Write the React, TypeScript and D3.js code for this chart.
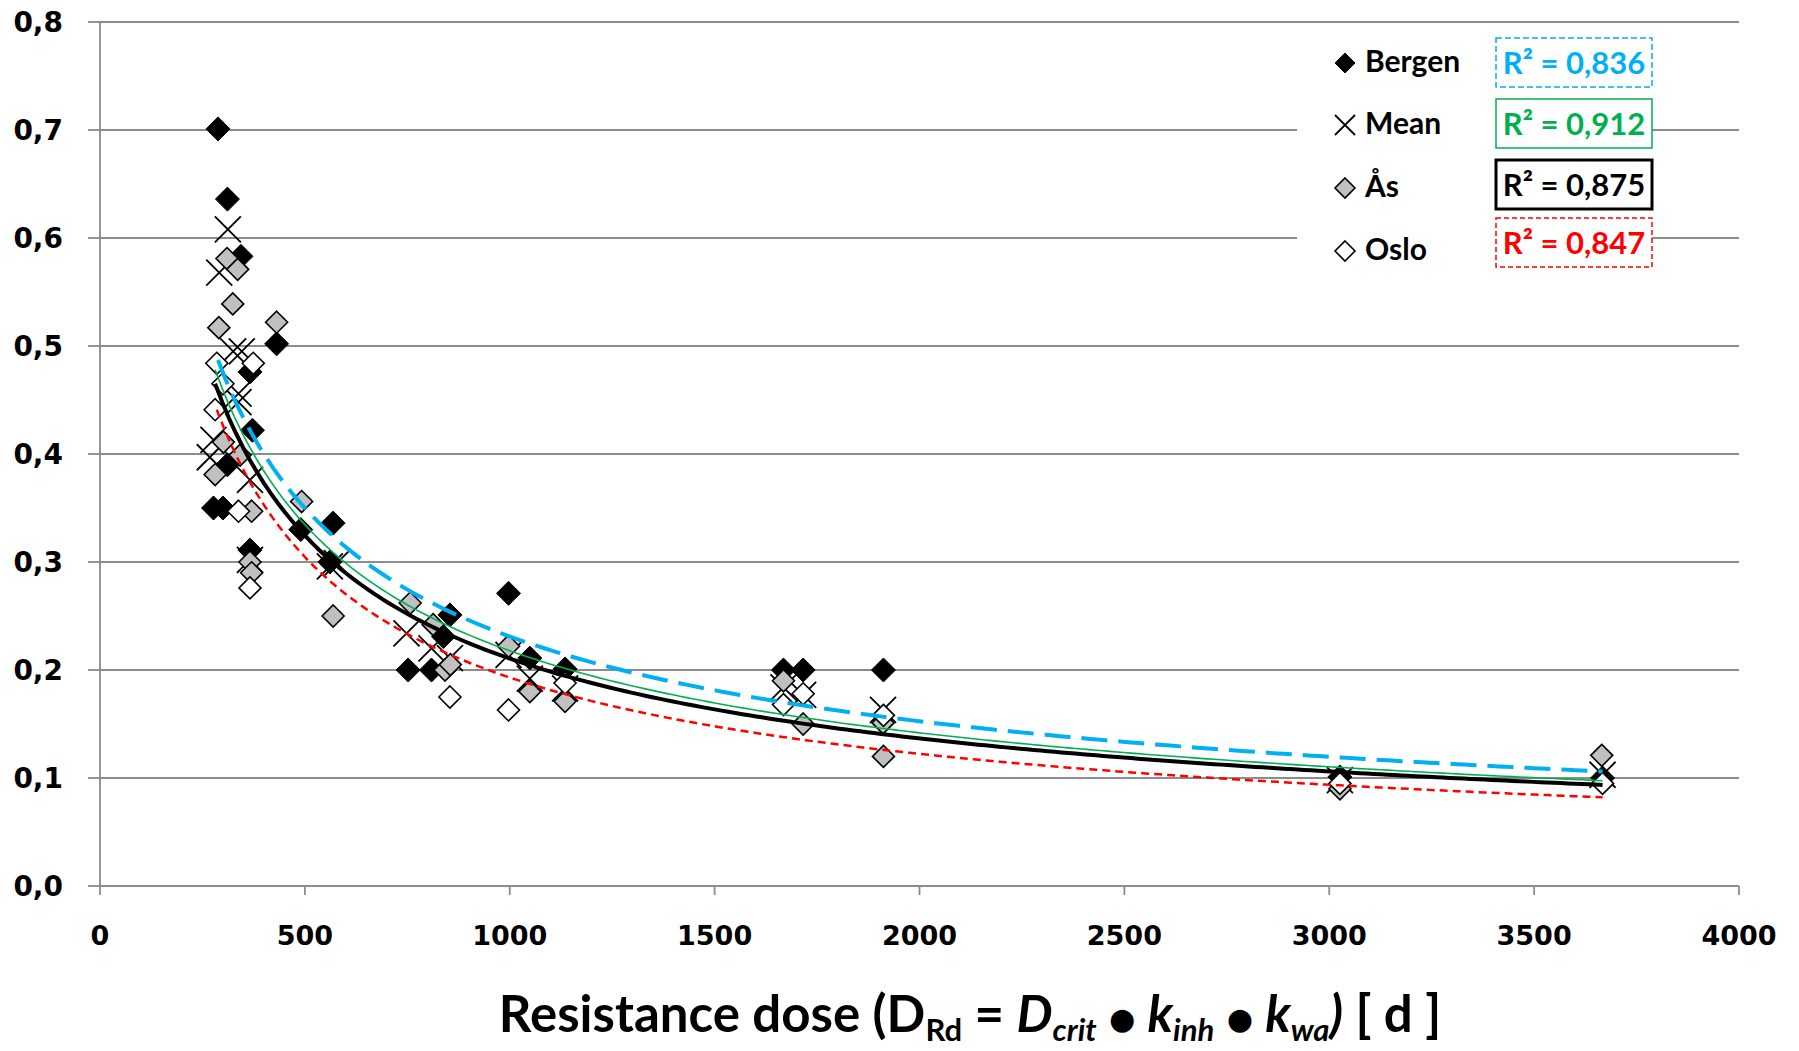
import React from "react";
import * as d3 from "d3";

// Points: [resistance dose, value]
const bergen: [number, number][] = [
  [288, 0.701], [311, 0.636], [344, 0.583], [431, 0.502], [366, 0.476],
  [372, 0.422], [311, 0.39], [277, 0.35], [300, 0.35], [366, 0.311],
  [490, 0.33], [569, 0.336], [561, 0.3], [752, 0.2], [809, 0.2],
  [854, 0.251], [838, 0.231], [997, 0.271], [1049, 0.211], [1135, 0.201],
  [1668, 0.2], [1716, 0.2], [1912, 0.2], [3026, 0.101], [3667, 0.1],
];

const mean: [number, number][] = [
  [312, 0.608], [291, 0.568], [325, 0.495], [346, 0.495], [338, 0.456],
  [338, 0.448], [277, 0.413], [268, 0.397], [366, 0.376], [366, 0.302],
  [561, 0.296], [578, 0.299], [748, 0.234], [809, 0.22], [854, 0.211],
  [997, 0.214], [1049, 0.192], [1135, 0.183], [1668, 0.184], [1716, 0.177],
  [1911, 0.163], [3026, 0.098], [3667, 0.103],
];

const aas: [number, number][] = [
  [310, 0.581], [336, 0.571], [324, 0.539], [290, 0.517], [431, 0.522],
  [301, 0.411], [342, 0.399], [281, 0.381], [370, 0.347], [366, 0.3],
  [370, 0.29], [492, 0.356], [569, 0.25], [757, 0.262], [813, 0.242],
  [842, 0.2], [855, 0.205], [997, 0.222], [1049, 0.18], [1135, 0.171],
  [1668, 0.19], [1716, 0.15], [1911, 0.151], [1912, 0.12], [3026, 0.09],
  [3665, 0.121],
];

const oslo: [number, number][] = [
  [285, 0.484], [374, 0.484], [281, 0.441], [300, 0.465], [338, 0.347],
  [366, 0.276], [854, 0.175], [997, 0.163], [1135, 0.188], [1668, 0.168],
  [1716, 0.178], [1912, 0.158], [3026, 0.095], [3667, 0.095],
];

// power trendlines y = a * x^b
const trendNames = ["Bergen", "Mean", "Ås", "Oslo"];
const trendA = [0.485 * Math.pow(290, 0.599), 0.478 * Math.pow(281, 0.619), 0.465 * Math.pow(281, 0.624), 0.441 * Math.pow(285, 0.658)];
const trendB = [-0.599, -0.619, -0.624, -0.658];
const trendFrom = [288, 281, 281, 285];
const r2Labels = ["R² = 0,836", "R² = 0,912", "R² = 0,875", "R² = 0,847"];

const xTicks = [0, 500, 1000, 1500, 2000, 2500, 3000, 3500, 4000];
const yTicks = [0, 0.1, 0.2, 0.3, 0.4, 0.5, 0.6, 0.7, 0.8];

const W = 1799;
const H = 1051;
const left = 100, right = 1739, top = 22, bottom = 886;

const x = d3.scaleLinear().domain([0, 4000]).range([left, right]);
const y = d3.scaleLinear().domain([0, 0.8]).range([bottom, top]);

const fmt = (v: number) => d3.format(".1f")(v).replace(".", ",");

const diamond = (r: number) => `M0,${-r}L${r},0L0,${r}L${-r},0Z`;
const cross = (r: number) => `M${-r},${-r}L${r},${r}M${-r},${r}L${r},${-r}`;

const trendStyles = [
  { stroke: "#00b0f0", width: 4, dash: "26 11" },
  { stroke: "#00b050", width: 1.6, dash: undefined },
  { stroke: "#000000", width: 4, dash: undefined },
  { stroke: "#ff0000", width: 2.5, dash: "8 5" },
];

const boxStyles = [
  { stroke: "#00b0f0", width: 1.5, dash: "6 3", color: "#00b0f0" },
  { stroke: "#00b050", width: 1.5, dash: undefined, color: "#00b050" },
  { stroke: "#000000", width: 3, dash: undefined, color: "#000000" },
  { stroke: "#ff0000", width: 1.5, dash: "5 3", color: "#ff0000" },
];

const labelFont = "'DejaVu Sans', Verdana, sans-serif";
const textFont = "Lato, 'Open Sans', sans-serif";

const Marker = ({ kind, cx, cy, r }: { kind: string; cx: number; cy: number; r: number }) => {
  if (kind === "Bergen")
    return <path d={diamond(r)} transform={`translate(${cx},${cy})`} fill="#000" stroke="#000" strokeWidth={1} />;
  if (kind === "Mean")
    return <path d={cross(r)} transform={`translate(${cx},${cy})`} fill="none" stroke="#000" strokeWidth={1.8} />;
  if (kind === "Ås")
    return <path d={diamond(r)} transform={`translate(${cx},${cy})`} fill="#c0c0c0" stroke="#000" strokeWidth={1.6} />;
  return <path d={diamond(r)} transform={`translate(${cx},${cy})`} fill="#fff" stroke="#000" strokeWidth={1.6} />;
};

export default function App() {
  const series: [string, [number, number][], number][] = [
    ["Bergen", bergen, 12],
    ["Mean", mean, 13],
    ["Ås", aas, 11],
    ["Oslo", oslo, 11],
  ];

  const line = d3
    .line<[number, number]>()
    .x((d) => x(d[0]))
    .y((d) => y(d[1]));

  const trends = trendNames.map((name, i) => {
    const pts = d3.range(0, 201).map((k) => {
      const xv = trendFrom[i] + ((3667 - trendFrom[i]) * k) / 200;
      return [xv, trendA[i] * Math.pow(xv, trendB[i])] as [number, number];
    });
    return { name, d: line(pts) || "" };
  });

  const legendRows = [61, 123, 186, 249];
  const boxTops = [38, 99, 160, 218];
  const bullet = { fontFamily: "'DejaVu Sans', sans-serif", fontSize: 30 };

  return (
    <svg width={W} height={H} style={{ position: "absolute", left: 0, top: 0, background: "#fff" }}>
      {/* gridlines */}
      {yTicks.map((t) => (
        <line key={"g" + t} x1={left} x2={right} y1={y(t)} y2={y(t)} stroke="#8c8c8c" strokeWidth={1.8} />
      ))}
      {/* axes */}
      <line x1={left} x2={left} y1={top} y2={bottom} stroke="#8c8c8c" strokeWidth={1.8} />
      {yTicks.map((t) => (
        <line key={"yt" + t} x1={left - 12} x2={left} y1={y(t)} y2={y(t)} stroke="#8c8c8c" strokeWidth={1.8} />
      ))}
      {xTicks.map((t) => (
        <line key={"xt" + t} x1={x(t)} x2={x(t)} y1={bottom} y2={bottom + 9} stroke="#8c8c8c" strokeWidth={1.8} />
      ))}
      {yTicks.map((t) => (
        <text key={"yl" + t} x={63} y={y(t)} dy="0.36em" textAnchor="end" fontFamily={labelFont} fontWeight="bold" fontSize={28}>
          {fmt(t)}
        </text>
      ))}
      {xTicks.map((t) => (
        <text key={"xl" + t} x={x(t)} y={935} dy="0.36em" textAnchor="middle" fontFamily={labelFont} fontWeight="bold" fontSize={27}>
          {t}
        </text>
      ))}

      {/* legend background */}
      <rect x={1297} y={30} width={200} height={246} fill="#fff" />

      {/* points */}
      {series.map(([name, data, r]) => (
        <g key={name}>
          {data.map((p, i) => (
            <Marker key={i} kind={name} cx={x(p[0])} cy={y(p[1])} r={r} />
          ))}
        </g>
      ))}

      {/* trendlines */}
      {[0, 1, 2, 3].map((i) => (
        <path
          key={"tr" + i}
          d={trends[i].d}
          fill="none"
          stroke={trendStyles[i].stroke}
          strokeWidth={trendStyles[i].width}
          strokeDasharray={trendStyles[i].dash}
        />
      ))}

      {/* legend */}
      {trendNames.map((name, i) => (
        <g key={"lg" + name}>
          <Marker kind={name} cx={1345} cy={legendRows[i] + 2} r={10} />
          <text x={1365} y={legendRows[i]} dy="0.36em" fontFamily={textFont} fontWeight="bold" fontSize={30}>
            {name}
          </text>
        </g>
      ))}

      {/* R² boxes */}
      {r2Labels.map((lab, i) => (
        <g key={"r2" + i}>
          <rect
            x={1496}
            y={boxTops[i]}
            width={156}
            height={49}
            fill="#fff"
            stroke={boxStyles[i].stroke}
            strokeWidth={boxStyles[i].width}
            strokeDasharray={boxStyles[i].dash}
          />
          <text
            x={1574}
            y={boxTops[i] + 25}
            dy="0.36em"
            textAnchor="middle"
            fill={boxStyles[i].color}
            fontFamily={textFont}
            fontWeight="bold"
            fontSize={31}
          >
            {lab}
          </text>
        </g>
      ))}

      {/* x-axis title */}
      <text x={970} y={1032} textAnchor="middle" fontFamily={textFont} fontWeight="bold" fontSize={51} style={{ whiteSpace: "pre" }}>
        <tspan>Resistance dose (D</tspan>
        <tspan fontSize={31} dy={9}>Rd</tspan>
        <tspan dy={-9}>{" = "}</tspan>
        <tspan fontStyle="italic">D</tspan>
        <tspan fontStyle="italic" fontSize={31} dy={9}>crit</tspan>
        <tspan dy={-9}>{" "}</tspan>
        <tspan {...bullet} dy={-3}>●</tspan>
        <tspan dy={3}>{" "}</tspan>
        <tspan fontStyle="italic">k</tspan>
        <tspan fontStyle="italic" fontSize={31} dy={9}>inh</tspan>
        <tspan dy={-9}>{" "}</tspan>
        <tspan {...bullet} dy={-3}>●</tspan>
        <tspan dy={3}>{" "}</tspan>
        <tspan fontStyle="italic">k</tspan>
        <tspan fontStyle="italic" fontSize={31} dy={9}>wa</tspan>
        <tspan fontStyle="italic" dy={-9}>)</tspan>
        <tspan>{" [ d ]"}</tspan>
      </text>
    </svg>
  );
}
